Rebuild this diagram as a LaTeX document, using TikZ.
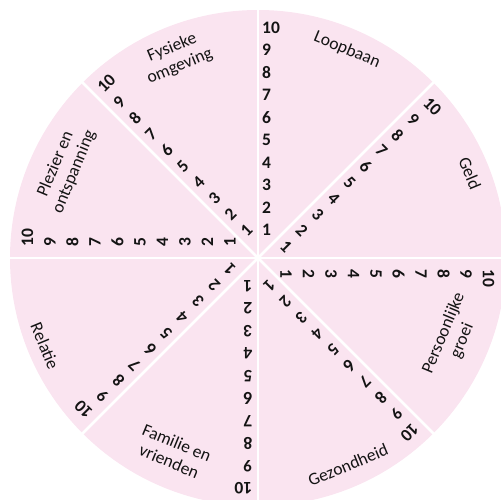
\documentclass[tikz,border=0pt]{standalone}
\usepackage{fontspec}
\setmainfont{Carlito}
\usetikzlibrary{calc}
\definecolor{wheelpink}{RGB}{250,228,240}
\definecolor{inktext}{RGB}{20,20,20}
\begin{document}
\begin{tikzpicture}[x=1pt,y=1pt,
  numlbl/.style={font=\bfseries\fontsize{17.5}{21}\selectfont, inner sep=0pt, anchor=west, text=inktext},
  areaname/.style={font=\fontsize{17.5}{20}\selectfont, inner sep=0pt, align=center, text=inktext},
  spoke/.style={draw=white, line width=2.5pt}]
\useasboundingbox (-258,-241) rectangle (243,258);
\coordinate (c) at (0,0);
\fill[wheelpink] (c) circle[radius=248];
\foreach \a in {0,45,...,315} {
  \coordinate (e\a) at (\a:249);
  \draw[spoke] (c) -- (e\a);
}
\foreach \a/\off in {0/11,45/7,90/4,135/7,180/11,225/7,270/5.5,315/7} {
  \foreach \k in {1,...,10} {
    \pgfmathsetmacro\d{28+(\k-1)*22.5}
    \node[numlbl, rotate=\a-90] (n\a-\k) at ($(\a:\d)+(\a-90:\off)$) {\k};
  }
}
\node[areaname, rotate=-22.5] (loopbaan) at (89,208) {Loopbaan};
\node[areaname, rotate=-67.5] (geld) at (212,85) {Geld};
\node[areaname, rotate=67.5] (groei) at (195,-79) {Persoonlijke\\groei};
\node[areaname, rotate=22.5] (gezond) at (90,-207) {Gezondheid};
\node[areaname, rotate=-22.5] (familie) at (-85,-194) {Familie en\\vrienden};
\node[areaname, rotate=-67.5] (relatie) at (-213,-88) {Relatie};
\node[areaname, rotate=67.5] (plezier) at (-193,90) {Plezier en\\ontspanning};
\node[areaname, rotate=22.5] (fysiek) at (-82,201) {Fysieke\\omgeving};
\end{tikzpicture}
\end{document}
